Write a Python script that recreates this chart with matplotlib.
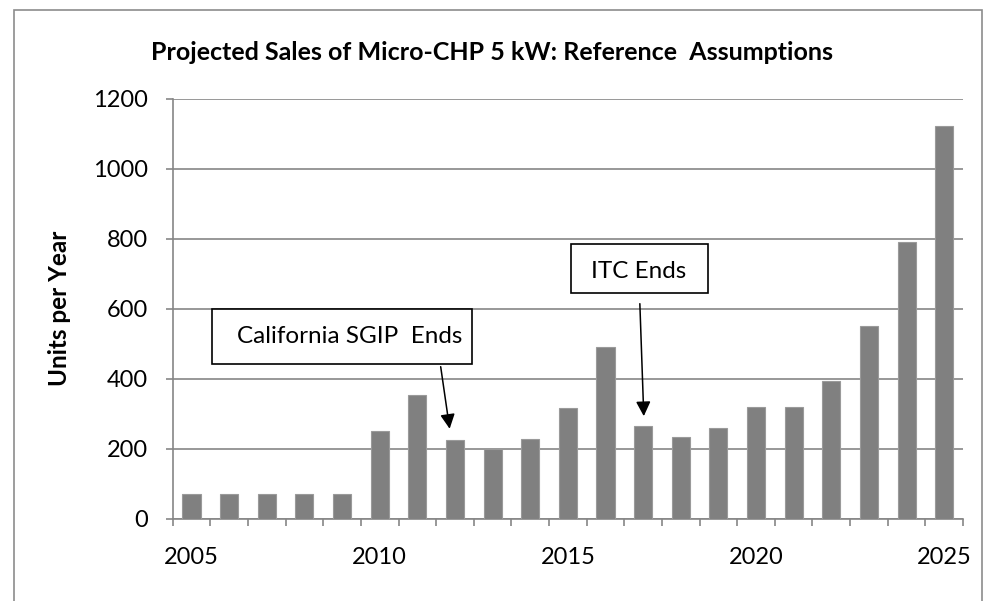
import matplotlib
matplotlib.use("Agg")
import matplotlib.pyplot as plt
from matplotlib.patches import Rectangle

plt.rcParams['font.family'] = ['Lato', 'DejaVu Sans']

years = list(range(2005, 2026))
units = [70, 70, 70, 70, 70, 250, 352, 224, 200, 229, 315, 490, 265, 233, 260,
         320, 320, 394, 549, 791, 1121]
year_labels = [2005, 2010, 2015, 2020, 2025]
y_ticks = [0, 200, 400, 600, 800, 1000, 1200]

grey = "#868686"

fig = plt.figure(figsize=(9.84, 6.01), dpi=100)
ax = fig.add_axes([0.1755, 0.1369, 0.8032, 0.6992])

ax.bar(years, units, width=0.48, color="#808080", edgecolor="#9a9a9a", linewidth=0.8, zorder=3)

ax.set_xlim(2004.5, 2025.5)
ax.set_ylim(0, 1200)
ax.set_yticks(y_ticks)
ax.set_xticks(year_labels)
ax.set_xticks([2004.5 + i for i in range(22)], minor=True)
ax.tick_params(axis="x", which="major", length=0, labelsize=17, pad=20)
ax.tick_params(axis="x", which="minor", length=5, color=grey, width=1.2, direction="out")
ax.tick_params(axis="y", length=5, color=grey, width=1.2, labelsize=17, pad=13)
ax.grid(axis="y", color=grey, linewidth=1.2, zorder=0)
for s in ["top", "right"]:
    ax.spines[s].set_visible(False)
for s in ["left", "bottom"]:
    ax.spines[s].set_color(grey)
    ax.spines[s].set_linewidth(1.2)

ax.set_ylabel("Units per Year", fontsize=17.5, fontweight="bold", va="center")
ax.yaxis.set_label_coords(-0.1426, 0.5)
fig.text(0.5, 0.913, "Projected Sales of Micro-CHP 5 kW: Reference  Assumptions",
         ha="center", va="center", fontsize=18, fontweight="bold")

# annotation boxes
ax.add_patch(Rectangle((2005.545, 442), 6.915, 157, facecolor="white", edgecolor="black",
                       linewidth=1.2, zorder=5, clip_on=False))
ax.text(2009.2, 521, "California SGIP  Ends", ha="center", va="center", fontsize=17.5, zorder=6)
ax.annotate("", xy=(2011.87, 249), xytext=(2011.61, 442),
            arrowprops=dict(arrowstyle="-|>", color="black", lw=1.1, mutation_scale=22), zorder=6)

ax.add_patch(Rectangle((2015.085, 644), 3.635, 141, facecolor="white", edgecolor="black",
                       linewidth=1.2, zorder=5, clip_on=False))
ax.text(2016.89, 706, "ITC Ends", ha="center", va="center", fontsize=17.5, zorder=6)
ax.annotate("", xy=(2017.02, 285), xytext=(2016.91, 622),
            arrowprops=dict(arrowstyle="-|>", color="black", lw=1.1, mutation_scale=22), zorder=6)

# outer chart frame
fig.patches.append(Rectangle((14 / 984, -0.1), (982 - 14) / 984, 1.1 - 10 / 601,
                             transform=fig.transFigure, fill=False, edgecolor="#8c8c8c",
                             linewidth=1.2))

fig.savefig("out.png", dpi=100)
